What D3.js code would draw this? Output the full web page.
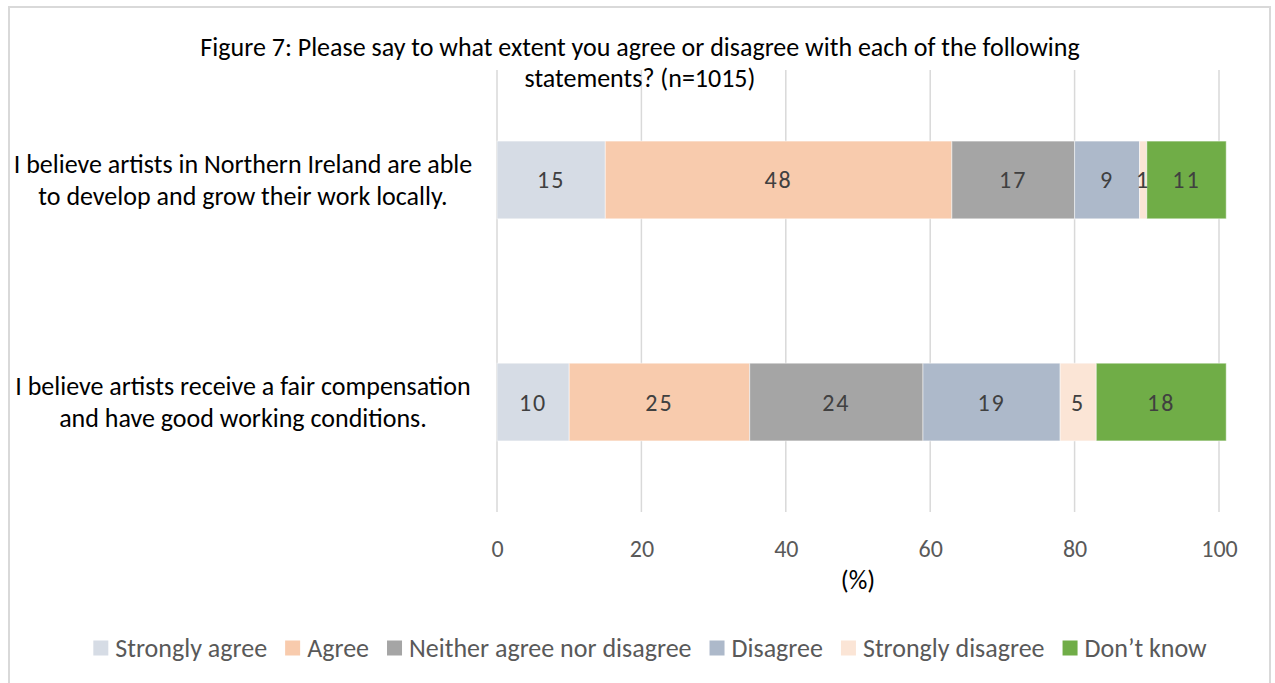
<!DOCTYPE html>
<html>
<head>
<meta charset="utf-8">
<script src="https://cdn.jsdelivr.net/npm/d3@7"></script>
<style>
  body { margin: 0; background: #fff; }
  svg { display: block; }
  text { font-family: Carlito, Lato, "Open Sans", sans-serif; }
</style>
</head>
<body>
<svg id="chart" width="1275" height="683"></svg>
<script>
// Survey statements (two-line labels) and response categories
const statements = [
  ["I believe artists in Northern Ireland are able", "to develop and grow their work locally."],
  ["I believe artists receive a fair compensation", "and have good working conditions."]
];
const responses = ["Strongly agree", "Agree", "Neither agree nor disagree", "Disagree", "Strongly disagree", "Don\u2019t know"];
const responseColors = ["#d6dce5", "#f8cbad", "#a5a5a5", "#adb9ca", "#fbe5d6", "#70ad47"];

// Percentages per response, one array per statement
const developLocally = [15, 48, 17, 9, 1, 11];
const fairCompensation = [10, 25, 24, 19, 5, 18];

const tickValues = [0, 20, 40, 60, 80, 100];
const titleLines = ["Figure 7: Please say to what extent you agree or disagree with each of the following", "statements?  (n=1015)"];
const axisTitle = "(%)";

const rows = [
  { label: statements[0], values: developLocally },
  { label: statements[1], values: fairCompensation }
];

const svg = d3.select("#chart");
const W = 1275, H = 683;
const plot = { left: 497, right: 1219, top: 70, bottom: 512 };

// Chart area border
svg.append("path")
  .attr("d", `M9,${H} V7 H1270 V${H}`)
  .attr("fill", "none")
  .attr("stroke", "#d9d9d9")
  .attr("stroke-width", 2);

const x = d3.scaleLinear().domain([0, 100]).range([plot.left, plot.right]);
const y = d3.scaleBand().domain(d3.range(rows.length))
  .range([plot.top, plot.bottom]).paddingInner(0.65).paddingOuter(0.32);

// Vertical gridlines
svg.append("g").selectAll("line").data(tickValues).join("line")
  .attr("x1", d => x(d)).attr("x2", d => x(d))
  .attr("y1", plot.top).attr("y2", plot.bottom)
  .attr("stroke", "#d9d9d9").attr("stroke-width", 1.5);

// Title
svg.append("g").selectAll("text").data(titleLines).join("text")
  .attr("x", 640).attr("y", (d, i) => 47 + i * 31)
  .attr("text-anchor", "middle").attr("dominant-baseline", "central")
  .attr("font-size", 26).attr("fill", "#000")
  .text(d => d);

// Stacked segments
const stacked = rows.map((r, ri) => {
  let acc = 0;
  return r.values.map((v, k) => {
    const seg = { row: ri, k, v, x0: acc, x1: acc + v };
    acc += v;
    return seg;
  });
});

const rowG = svg.append("g").selectAll("g").data(stacked).join("g");
rowG.selectAll("rect").data(d => d).join("rect")
  .attr("x", d => x(d.x0))
  .attr("width", d => x(d.x1) - x(d.x0))
  .attr("y", d => y(d.row))
  .attr("height", y.bandwidth())
  .attr("fill", d => responseColors[d.k])
  .attr("stroke", "#ffffff").attr("stroke-opacity", 0.5).attr("stroke-width", 1);

rowG.selectAll("text").data(d => d).join("text")
  .attr("x", d => (x(d.x0) + x(d.x1)) / 2)
  .attr("y", d => y(d.row) + y.bandwidth() / 2)
  .attr("text-anchor", "middle").attr("dominant-baseline", "central")
  .attr("font-size", 24).attr("letter-spacing", 2).attr("fill", "#404040")
  .text(d => d.v);

// Category labels
const catG = svg.append("g").selectAll("text").data(rows).join("text")
  .attr("text-anchor", "middle")
  .attr("font-size", 26).attr("fill", "#000");
catG.selectAll("tspan").data((d, i) => d.label.map(t => ({ t, i }))).join("tspan")
  .attr("x", 243)
  .attr("y", (d, j) => y(d.i) + y.bandwidth() / 2 - 16 + j * 32)
  .attr("dominant-baseline", "central")
  .text(d => d.t);

// X axis tick labels
const xAxis = d3.axisBottom(x).tickValues(tickValues).tickSize(0).tickPadding(0);
const axG = svg.append("g").attr("transform", `translate(0,${plot.bottom})`).call(xAxis);
axG.select(".domain").remove();
axG.selectAll("text")
  .attr("y", 36).attr("dy", 0)
  .attr("dominant-baseline", "central")
  .attr("font-size", 24).attr("fill", "#595959")
  .style("font-family", "Carlito, Lato, 'Open Sans', sans-serif");

svg.append("text")
  .attr("x", x(50)).attr("y", 580)
  .attr("text-anchor", "middle").attr("dominant-baseline", "central")
  .attr("font-size", 26).attr("fill", "#000")
  .text(axisTitle);

// Legend
const legend = svg.append("g");
const items = legend.selectAll("g").data(responses).join("g");
items.append("rect").attr("width", 15).attr("height", 15).attr("y", -7.5)
  .attr("fill", (d, i) => responseColors[i]);
items.append("text").attr("x", 22).attr("dominant-baseline", "central")
  .attr("font-size", 26).attr("fill", "#595959").text(d => d);
let cx = 0;
const offs = [];
items.each(function () {
  offs.push(cx);
  const w = d3.select(this).select("text").node().getComputedTextLength();
  cx += 22 + w + 18;
});
const total = cx - 18;
const startX = 650 - total / 2;
items.attr("transform", (d, i) => `translate(${startX + offs[i]},648)`);
</script>
</body>
</html>
